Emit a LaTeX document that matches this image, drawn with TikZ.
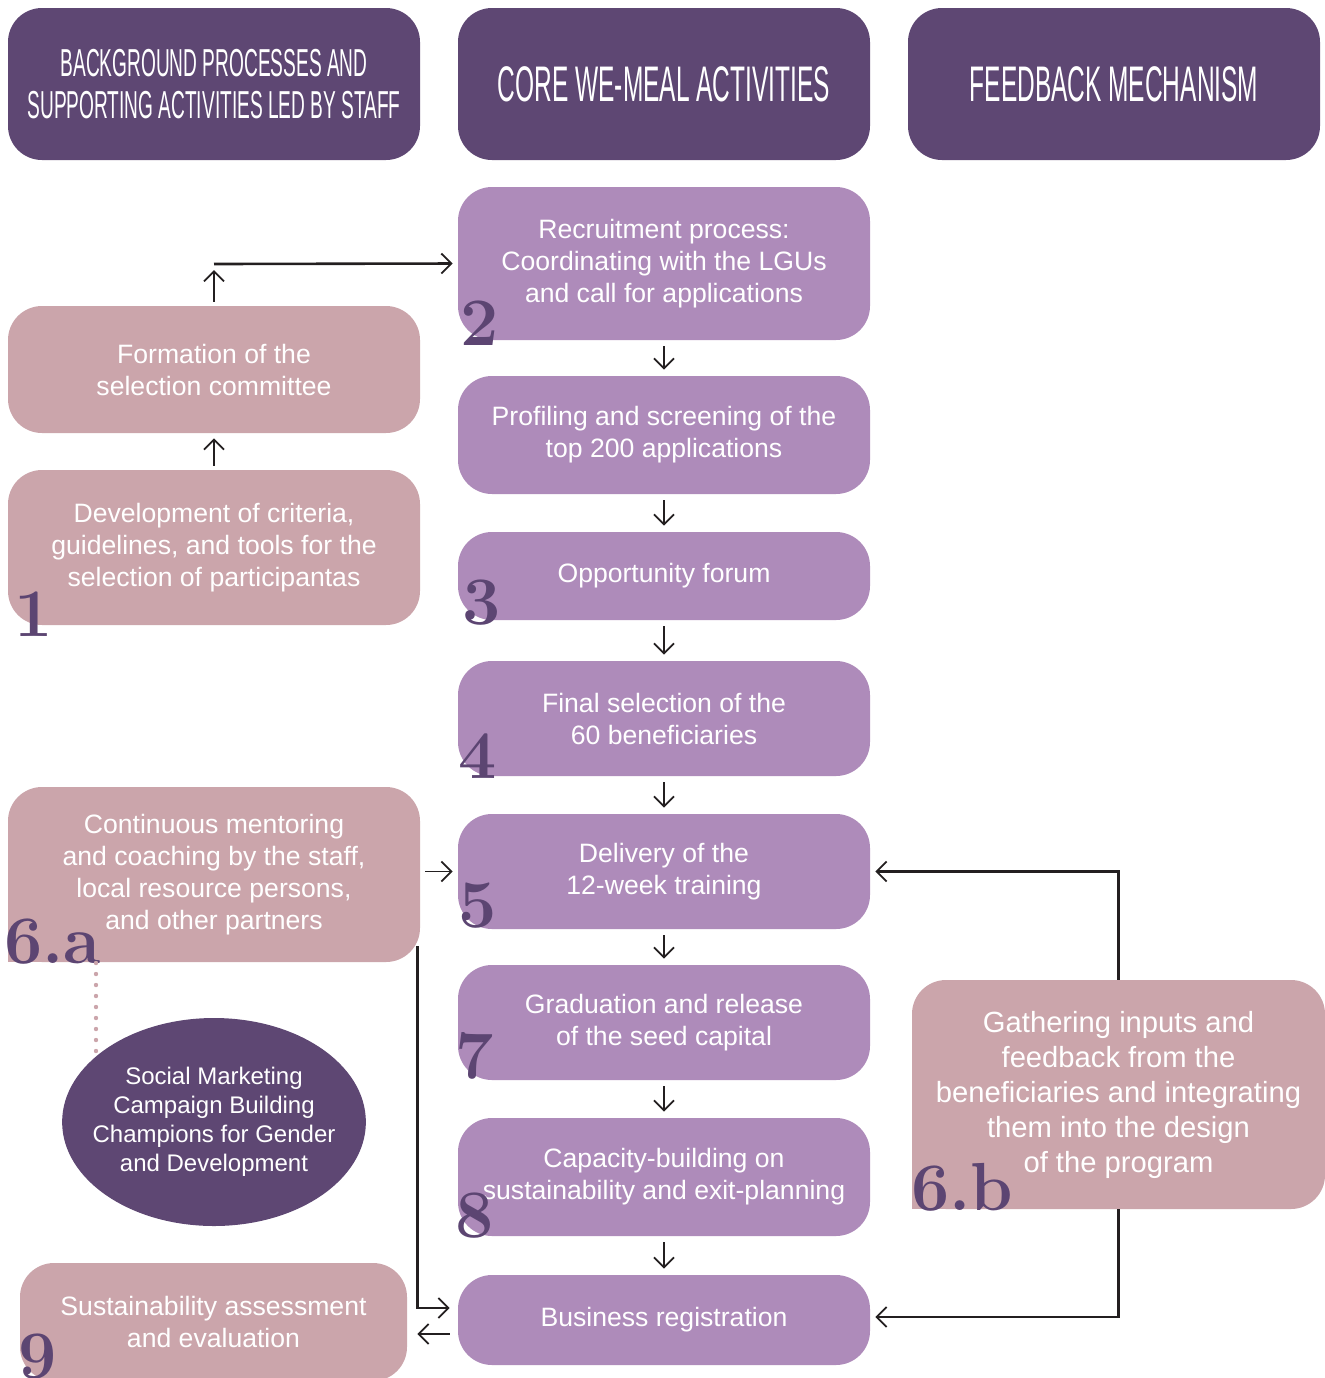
\documentclass[tikz,border=0pt]{standalone}
\usepackage{fontspec}
\usetikzlibrary{arrows.meta,shapes.geometric}

\newfontfamily\bodyfont{Liberation Sans}
\newfontfamily\headfont[FakeStretch=0.49]{Liberation Sans}

\definecolor{headpurple}{RGB}{94,71,115}
\definecolor{corepurple}{RGB}{174,139,186}
\definecolor{sidepink}{RGB}{203,165,171}
\definecolor{numpurple}{RGB}{92,69,114}
\definecolor{ink}{RGB}{35,31,32}

\tikzset{
  box/.style={rounded corners=17pt, minimum width=206pt, inner sep=0pt, align=center, text=white,
    font=\bodyfont\fontsize{13.3}{16}\selectfont},
  headbox/.style={box, fill=headpurple, minimum height=76pt, font=\headfont\fontsize{25}{30}\selectfont},
  core/.style={box, fill=corepurple},
  side/.style={box, fill=sidepink},
  num/.style={anchor=base west, inner sep=0pt, text=numpurple, font=\fontsize{34}{34}\selectfont\bfseries},
  arr/.style={draw=ink, line width=0.9pt, -{Straight Barb[length=5pt,width=10pt,line width=0.9pt]},
    shorten <=2pt, shorten >=2.5pt},
  link/.style={arr, line width=1.3pt, shorten <=0pt},
}

\begin{document}
\begin{tikzpicture}[x=0.5pt, y=-0.5pt]
            \useasboundingbox (0,0) rectangle (1325,1378);

            % column heads
            \node[headbox, font=\headfont\fontsize{19.5}{21}\selectfont] (hleft) at (214, 84) {BACKGROUND PROCESSES AND\\SUPPORTING ACTIVITIES LED BY STAFF};
            \node[headbox] (hcore)  at (664, 84)  {CORE WE-MEAL ACTIVITIES};
            \node[headbox] (hright) at (1114, 84) {FEEDBACK MECHANISM};

            % core activities
            \node[core, minimum height=76.5pt] (recruit) at (664, 263.5) {Recruitment process:\\Coordinating with the LGUs\\and call for applications};
            \node[core, minimum height=59pt]   (profile) at (664, 435)   {Profiling and screening of the\\top 200 applications};
            \node[core, minimum height=44pt]   (forum)   at (664, 576)   {Opportunity forum};
            \node[core, minimum height=57.5pt] (final)   at (664, 718.5) {Final selection of the\\60 beneficiaries};
            \node[core, minimum height=57.5pt] (deliver) at (664, 871.5) {Delivery of the\\12-week training};
            \node[core, minimum height=57.5pt] (grad)    at (664, 1022.5) {Graduation and release\\of the seed capital};
            \node[core, minimum height=59pt]   (capac)   at (664, 1177)  {Capacity-building on\\sustainability and exit-planning};
            \node[core, minimum height=45pt]   (biz)     at (664, 1320)  {Business registration};

            % staff side
            \node[side, minimum height=63.5pt] (form) at (214, 369.5) {Formation of the\\selection committee};
            \node[side, minimum height=77.5pt] (dev)  at (214, 547.5) {Development of criteria,\\guidelines, and tools for the\\selection of participantas};
            \node[side, minimum height=87.5pt] (sixa) at (214, 874.5) {Continuous mentoring\\and coaching by the staff,\\local resource persons,\\and other partners};
            \fill[sidepink] (sixa.south west) rectangle ++(40,-40);
            \node[side, minimum width=193.5pt, minimum height=59pt] (sust) at (213.5, 1322) {Sustainability assessment\\and evaluation};
            \node[ellipse, fill=headpurple, minimum width=151pt, minimum height=104pt, inner xsep=-7pt, inner ysep=9pt, align=center, text=white,
              font=\bodyfont\fontsize{12}{14.5}\selectfont] (social) at (214, 1122) {Social Marketing\\Campaign Building\\Champions for Gender\\and Development};

            % feedback side
            \node[side, minimum width=206.5pt, minimum height=114.5pt, font=\bodyfont\fontsize{14.6}{17.5}\selectfont] (gather) at (1118.5, 1094.5)
              {Gathering inputs and\\feedback from the\\beneficiaries and integrating\\them into the design\\of the program};
            \fill[sidepink] (gather.south west) rectangle ++(40,-40);

            % step numbers
            \node[num] (n1)  at (14, 636)   {1};
            \node[num] (n2)  at (460, 345)  {2};
            \node[num] (n3)  at (462, 624)  {3};
            \node[num] (n4)  at (458, 778)  {4};
            \node[num] (n5)  at (458, 927)  {5};
            \node[num] (n6a) at (4, 963)    {6.a};
            \node[num] (n7)  at (455, 1078) {7};
            \node[num] (n8)  at (455, 1237) {8};
            \node[num] (n9)  at (18, 1378)  {9};
            \node[num] (n6b) at (911, 1210) {6.b};

            % connectors
            \coordinate (turn) at (214, 264);
            \coordinate (dottop) at (96, 963);
            \draw[arr] (dev) -- (form);
            \draw[arr, shorten >=3pt] (form) -- (turn);
            \draw[link] (turn) -- (recruit.west);
            \foreach \a/\b in {recruit/profile, profile/forum, forum/final, final/deliver, deliver/grad, grad/capac, capac/biz}
              \draw[arr, shorten <=3pt, shorten >=3pt] (\a) -- (\b);
            \draw[arr, shorten <=2.5pt] (sixa.east |- deliver.west) -- (deliver.west);
            \draw[link, shorten >=4pt] ([xshift=-1.5pt, yshift=8pt]sixa.south east) |- ([yshift=6pt]biz.west);
            \draw[arr, shorten <=4pt, shorten >=5pt] ([yshift=-7pt]biz.west) -- ([yshift=-7pt]biz.west -| sust.east);
            \draw[link] (gather.north) |- (deliver.east);
            \draw[link] (gather.south) |- ([yshift=1.5pt]biz.east);
            \draw[sidepink, line width=2.2pt, line cap=round, dash pattern=on 0pt off 5.5pt] (dottop) -- (dottop |- social.151);
        \end{tikzpicture}
\end{document}
